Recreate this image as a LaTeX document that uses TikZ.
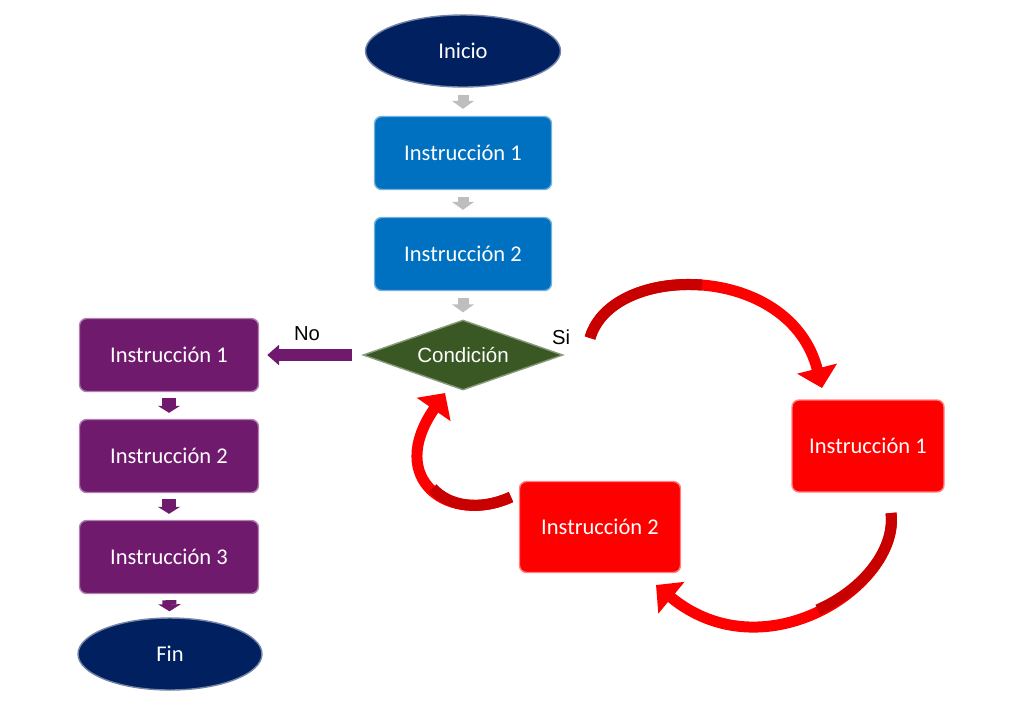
\documentclass[tikz,border=0pt]{standalone}
\usepackage{fontspec}
\setmainfont{Carlito}
\newfontfamily\arialfont{Liberation Sans}
\usetikzlibrary{shapes.geometric,arrows.meta}
\definecolor{navy}{RGB}{0,32,96}
\definecolor{boxblue}{RGB}{0,112,192}
\definecolor{boxpurple}{RGB}{112,26,110}
\definecolor{condgreen}{RGB}{58,88,36}
\definecolor{darkred}{RGB}{200,0,0}
\definecolor{lightgray}{RGB}{190,190,190}
\tikzset{
	box/.style={rectangle,rounded corners=4pt,text=white,inner sep=0pt,line width=0.8pt,
		font=\fontsize{12.8}{15}\selectfont},
	terminal/.style={ellipse,fill=navy,draw=navy!55!white,text=white,inner sep=0pt,line width=0.8pt,
		minimum height=1.44cm,font=\fontsize{12.8}{15}\selectfont},
	bluebox/.style={box,fill=boxblue,draw=boxblue!55!white,minimum width=3.54cm,minimum height=1.46cm},
	purplebox/.style={box,fill=boxpurple,draw=boxpurple!55!white,minimum width=3.58cm,minimum height=1.46cm},
	redbox/.style={box,fill=red,draw=red!50!white},
	cond/.style={diamond,aspect=2.86,fill=condgreen,draw=condgreen!60!white,text=white,inner sep=0pt,line width=0.8pt,
		minimum width=4cm,minimum height=1.4cm,font=\arialfont\fontsize{11.7}{14}\selectfont},
	tag/.style={font=\arialfont\fontsize{11.5}{14}\selectfont,inner sep=1pt},
	grayarrow/.style={lightgray,line width=0.22cm,shorten <=0.14cm,shorten >=0.14cm,
		-{Triangle[width=0.44cm,length=0.16cm]}},
	purpledown/.style={boxpurple,line width=0.28cm,shorten <=0.12cm,shorten >=0.12cm,
		-{Triangle[width=0.44cm,length=0.14cm]}},
	purplearrow/.style={boxpurple,line width=0.24cm,shorten <=0.2cm,shorten >=0.16cm,
		-{Triangle[width=0.4cm,length=0.24cm]}},
	redarc/.style={red,line width=0.22cm,-{Triangle[width=0.8cm,length=0.4cm]}},
	redtail/.style={darkred,line width=0.22cm}
}
\begin{document}
\begin{tikzpicture}[x=0.02cm,y=-0.02cm]
\useasboundingbox (0,0) rectangle (1026,701);

\node[terminal,minimum width=3.9cm] (inicio) at (463,51) {Inicio};
\node[bluebox] (b1) at (463,153) {Instrucción 1};
\node[bluebox] (b2) at (463,254) {Instrucción 2};
\node[cond] (cond) at (463,355) {Condición};

\foreach \y/\n in {355/1,456/2,557/3}
	\node[purplebox] (p\n) at (169,\y) {Instrucción \n};
\node[terminal,minimum width=3.68cm] (fin) at (170,654) {Fin};

\node[redbox,minimum width=3.04cm,minimum height=1.84cm] (r1) at (868,446) {Instrucción 1};
\node[redbox,minimum width=3.22cm,minimum height=1.82cm] (r2) at (600,527) {Instrucción 2};

\node[tag] (no) at (307,334) {No};
\node[tag] (si) at (561,337) {Si};

% flujo principal
\draw[grayarrow] (inicio) -- (b1);
\draw[grayarrow] (b1) -- (b2);
\draw[grayarrow] (b2) -- (cond);
\draw[purplearrow] (cond) -- (p1);
\foreach \a/\b in {p1/p2,p2/p3,p3/fin}
	\draw[purpledown] (\a) -- (\b);

% ciclo del Si
\coordinate (t1) at (590,338);
\coordinate (h1) at (822,388);
\coordinate (t2) at (891,513);
\coordinate (h2) at (656,585);
\coordinate (t3) at (511,497);
\coordinate (h3) at (445,393);
\draw[redarc] (t1) .. controls (612,262) and (790,262) .. (h1);
\draw[redtail] (t1) .. controls (601,300) and (651,281) .. (702,285);
\draw[redarc] (t2) .. controls (900,585) and (765,675) .. (h2);
\draw[redtail] (t2) .. controls (895.5,549) and (864,589.5) .. (817.75,609.75);
\draw[redarc] (t3) .. controls (450,525) and (385,480) .. (h3);
\draw[redtail] (t3) .. controls (480.5,511) and (449,506.75) .. (432.6,488.1);
\end{tikzpicture}
\end{document}
